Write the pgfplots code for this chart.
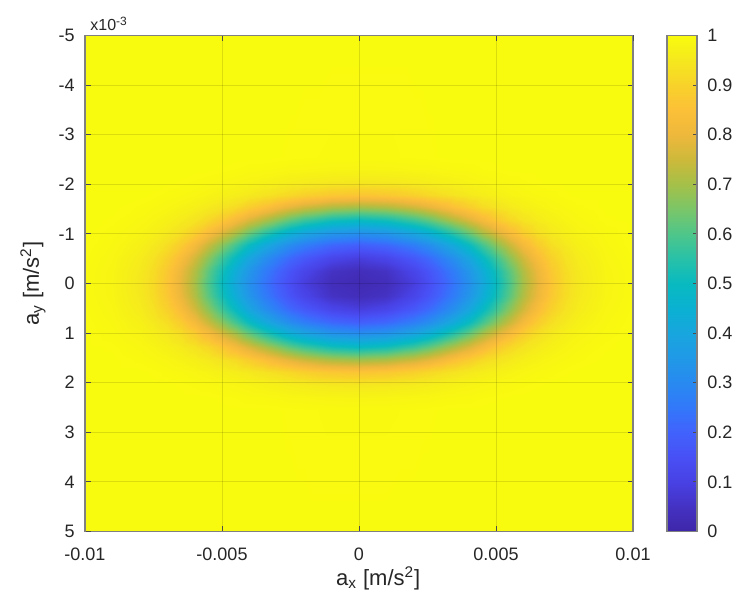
\documentclass[border=0pt]{standalone}
\usepackage{pgfplots}
\pgfplotsset{compat=1.18}
\usepackage{fontspec}
\setmainfont{Liberation Sans}

% parula-like colormap, sampled every 0.05
\pgfplotsset{
  colormap={parula}{
    rgb255=(62,38,168) rgb255=(68,50,195) rgb255=(72,65,228) rgb255=(72,80,245)
    rgb255=(65,98,252) rgb255=(50,120,250) rgb255=(40,138,240) rgb255=(32,153,231)
    rgb255=(24,166,222) rgb255=(10,177,210) rgb255=(8,186,192) rgb255=(40,193,168)
    rgb255=(78,198,138) rgb255=(122,198,104) rgb255=(165,192,72) rgb255=(205,185,58)
    rgb255=(238,184,60) rgb255=(252,192,56) rgb255=(248,210,42) rgb255=(245,232,30)
    rgb255=(249,251,14)
  },
  /pgf/number format/assume math mode=true,
}

\begin{document}
\begin{tikzpicture}
\useasboundingbox (-42.5pt,-30.75pt) rectangle (323.5pt,265.75pt);
\begin{axis}[
    view={0}{90},
    width=274pt, height=248pt, scale only axis,
    xmin=-10, xmax=10, ymin=-5, ymax=5, zmin=0, zmax=1,
    y dir=reverse,
    xtick={-10,-5,0,5,10},
    xticklabels={-0.01,-0.005,0,0.005,0.01},
    ytick={-5,-4,...,5},
    ztick=\empty,
    tick align=inside, major tick length=2.75pt,
    tick style={draw=black!70, line width=0.5pt},
    axis line style={draw=black!50, line width=0.9pt},
    grid=major,
    major grid style={draw=black, opacity=0.12, line width=0.5pt},
    axis on top,
    ticklabel style={font=\fontsize{9}{10}\selectfont, text=black!85},
    xticklabel style={anchor=north, inner sep=0pt, yshift=-8pt},
    yticklabel style={anchor=east, inner sep=0pt, xshift=-5pt},
    every axis x label/.style={at={(axis description cs:0.535,-0.108)}, anchor=base,
        font=\fontsize{11}{13}\selectfont, text=black!85},
    every axis y label/.style={at={(axis description cs:-0.084,0.5)}, anchor=base,
        rotate=90, font=\fontsize{11}{13}\selectfont, text=black!85},
    xlabel={a\textsubscript{x} [m/s\textsuperscript{2}]},
    ylabel={a\textsubscript{y} [m/s\textsuperscript{2}]},
    colormap name=parula,
    point meta min=0, point meta max=1,
    colorbar,
    colorbar style={
        at={(parent axis.north east)}, anchor=north west, xshift=8.5pt,
        width=15pt, height=248pt, scale only axis,
        ytick={0,0.1,0.2,0.3,0.4,0.5,0.6,0.7,0.8,0.9,1},
        ytick pos=right,
        tick align=inside, major tick length=2pt,
        tick style={draw=black!70, line width=0.5pt},
        axis line style={draw=black!50, line width=0.8pt},
        yticklabel style={font=\fontsize{9}{10}\selectfont, text=black!85,
            anchor=west, inner sep=0pt, xshift=5pt},
    },
]
% values in units of 1e-3 for x and y
\addplot3[surf, shader=interp, mesh/cols=33] table[row sep=\\] {
x y z\\
-10 -5 1\\ -9 -5 1\\ -8 -5 1\\ -7.5 -5 1\\ -7 -5 1\\ -6.5 -5 1\\ -6 -5 1\\ -5.5 -5 1\\ -5 -5 1\\ -4.5 -5 1\\ -4 -5 1\\ -3.5 -5 1\\ -3 -5 1\\ -2.5 -5 1\\ -2 -5 1\\ -1 -5 1\\ 0 -5 1\\ 1 -5 1\\ 2 -5 1\\ 2.5 -5 1\\ 3 -5 1\\ 3.5 -5 1\\ 4 -5 1\\ 4.5 -5 1\\ 5 -5 1\\ 5.5 -5 1\\ 6 -5 1\\ 6.5 -5 1\\ 7 -5 1\\ 7.5 -5 1\\ 8 -5 1\\ 9 -5 1\\ 10 -5 1\\
-10 -2.56 1\\ -9 -2.56 1\\ -8 -2.56 1\\ -7.5 -2.56 1\\ -7 -2.56 1\\ -6.5 -2.56 1\\ -6 -2.56 1\\ -5.5 -2.56 1\\ -5 -2.56 1\\ -4.5 -2.56 1\\ -4 -2.56 1\\ -3.5 -2.56 1\\ -3 -2.56 0.999\\ -2.5 -2.56 0.998\\ -2 -2.56 0.997\\ -1 -2.56 0.995\\ 0 -2.56 0.995\\ 1 -2.56 0.995\\ 2 -2.56 0.997\\ 2.5 -2.56 0.998\\ 3 -2.56 0.999\\ 3.5 -2.56 1\\ 4 -2.56 1\\ 4.5 -2.56 1\\ 5 -2.56 1\\ 5.5 -2.56 1\\ 6 -2.56 1\\ 6.5 -2.56 1\\ 7 -2.56 1\\ 7.5 -2.56 1\\ 8 -2.56 1\\ 9 -2.56 1\\ 10 -2.56 1\\
-10 -2.304 1\\ -9 -2.304 1\\ -8 -2.304 1\\ -7.5 -2.304 1\\ -7 -2.304 1\\ -6.5 -2.304 1\\ -6 -2.304 1\\ -5.5 -2.304 1\\ -5 -2.304 0.998\\ -4.5 -2.304 0.996\\ -4 -2.304 0.993\\ -3.5 -2.304 0.992\\ -3 -2.304 0.99\\ -2.5 -2.304 0.987\\ -2 -2.304 0.986\\ -1 -2.304 0.983\\ 0 -2.304 0.982\\ 1 -2.304 0.983\\ 2 -2.304 0.986\\ 2.5 -2.304 0.987\\ 3 -2.304 0.99\\ 3.5 -2.304 0.992\\ 4 -2.304 0.993\\ 4.5 -2.304 0.996\\ 5 -2.304 0.998\\ 5.5 -2.304 1\\ 6 -2.304 1\\ 6.5 -2.304 1\\ 7 -2.304 1\\ 7.5 -2.304 1\\ 8 -2.304 1\\ 9 -2.304 1\\ 10 -2.304 1\\
-10 -2.048 1\\ -9 -2.048 1\\ -8 -2.048 1\\ -7.5 -2.048 1\\ -7 -2.048 1\\ -6.5 -2.048 0.998\\ -6 -2.048 0.995\\ -5.5 -2.048 0.992\\ -5 -2.048 0.989\\ -4.5 -2.048 0.985\\ -4 -2.048 0.981\\ -3.5 -2.048 0.976\\ -3 -2.048 0.971\\ -2.5 -2.048 0.965\\ -2 -2.048 0.960\\ -1 -2.048 0.953\\ 0 -2.048 0.95\\ 1 -2.048 0.953\\ 2 -2.048 0.960\\ 2.5 -2.048 0.965\\ 3 -2.048 0.971\\ 3.5 -2.048 0.976\\ 4 -2.048 0.981\\ 4.5 -2.048 0.985\\ 5 -2.048 0.989\\ 5.5 -2.048 0.992\\ 6 -2.048 0.995\\ 6.5 -2.048 0.998\\ 7 -2.048 1\\ 7.5 -2.048 1\\ 8 -2.048 1\\ 9 -2.048 1\\ 10 -2.048 1\\
-10 -1.792 1\\ -9 -1.792 1\\ -8 -1.792 1\\ -7.5 -1.792 0.998\\ -7 -1.792 0.994\\ -6.5 -1.792 0.991\\ -6 -1.792 0.986\\ -5.5 -1.792 0.980\\ -5 -1.792 0.972\\ -4.5 -1.792 0.963\\ -4 -1.792 0.953\\ -3.5 -1.792 0.940\\ -3 -1.792 0.927\\ -2.5 -1.792 0.913\\ -2 -1.792 0.896\\ -1 -1.792 0.873\\ 0 -1.792 0.865\\ 1 -1.792 0.873\\ 2 -1.792 0.896\\ 2.5 -1.792 0.913\\ 3 -1.792 0.927\\ 3.5 -1.792 0.940\\ 4 -1.792 0.953\\ 4.5 -1.792 0.963\\ 5 -1.792 0.972\\ 5.5 -1.792 0.980\\ 6 -1.792 0.986\\ 6.5 -1.792 0.991\\ 7 -1.792 0.994\\ 7.5 -1.792 0.998\\ 8 -1.792 1\\ 9 -1.792 1\\ 10 -1.792 1\\
-10 -1.536 1\\ -9 -1.536 1\\ -8 -1.536 0.995\\ -7.5 -1.536 0.991\\ -7 -1.536 0.986\\ -6.5 -1.536 0.978\\ -6 -1.536 0.969\\ -5.5 -1.536 0.956\\ -5 -1.536 0.939\\ -4.5 -1.536 0.92\\ -4 -1.536 0.888\\ -3.5 -1.536 0.856\\ -3 -1.536 0.818\\ -2.5 -1.536 0.785\\ -2 -1.536 0.755\\ -1 -1.536 0.714\\ 0 -1.536 0.70\\ 1 -1.536 0.714\\ 2 -1.536 0.755\\ 2.5 -1.536 0.785\\ 3 -1.536 0.818\\ 3.5 -1.536 0.856\\ 4 -1.536 0.888\\ 4.5 -1.536 0.92\\ 5 -1.536 0.939\\ 5.5 -1.536 0.956\\ 6 -1.536 0.969\\ 6.5 -1.536 0.978\\ 7 -1.536 0.986\\ 7.5 -1.536 0.991\\ 8 -1.536 0.995\\ 9 -1.536 1\\ 10 -1.536 1\\
-10 -1.28 1\\ -9 -1.28 0.998\\ -8 -1.28 0.989\\ -7.5 -1.28 0.982\\ -7 -1.28 0.972\\ -6.5 -1.28 0.958\\ -6 -1.28 0.939\\ -5.5 -1.28 0.913\\ -5 -1.28 0.873\\ -4.5 -1.28 0.821\\ -4 -1.28 0.769\\ -3.5 -1.28 0.718\\ -3 -1.28 0.666\\ -2.5 -1.28 0.618\\ -2 -1.28 0.577\\ -1 -1.28 0.520\\ 0 -1.28 0.50\\ 1 -1.28 0.520\\ 2 -1.28 0.577\\ 2.5 -1.28 0.618\\ 3 -1.28 0.666\\ 3.5 -1.28 0.718\\ 4 -1.28 0.769\\ 4.5 -1.28 0.821\\ 5 -1.28 0.873\\ 5.5 -1.28 0.913\\ 6 -1.28 0.939\\ 6.5 -1.28 0.958\\ 7 -1.28 0.972\\ 7.5 -1.28 0.982\\ 8 -1.28 0.989\\ 9 -1.28 0.998\\ 10 -1.28 1\\
-10 -1.024 1\\ -9 -1.024 0.993\\ -8 -1.024 0.981\\ -7.5 -1.024 0.97\\ -7 -1.024 0.953\\ -6.5 -1.024 0.928\\ -6 -1.024 0.888\\ -5.5 -1.024 0.833\\ -5 -1.024 0.769\\ -4.5 -1.024 0.704\\ -4 -1.024 0.631\\ -3.5 -1.024 0.563\\ -3 -1.024 0.50\\ -2.5 -1.024 0.446\\ -2 -1.024 0.40\\ -1 -1.024 0.341\\ 0 -1.024 0.32\\ 1 -1.024 0.341\\ 2 -1.024 0.40\\ 2.5 -1.024 0.446\\ 3 -1.024 0.50\\ 3.5 -1.024 0.563\\ 4 -1.024 0.631\\ 4.5 -1.024 0.704\\ 5 -1.024 0.769\\ 5.5 -1.024 0.833\\ 6 -1.024 0.888\\ 6.5 -1.024 0.928\\ 7 -1.024 0.953\\ 7.5 -1.024 0.97\\ 8 -1.024 0.981\\ 9 -1.024 0.993\\ 10 -1.024 1\\
-10 -0.768 0.999\\ -9 -0.768 0.99\\ -8 -0.768 0.971\\ -7.5 -0.768 0.953\\ -7 -0.768 0.927\\ -6.5 -0.768 0.882\\ -6 -0.768 0.818\\ -5.5 -0.768 0.745\\ -5 -0.768 0.666\\ -4.5 -0.768 0.582\\ -4 -0.768 0.50\\ -3.5 -0.768 0.426\\ -3 -0.768 0.361\\ -2.5 -0.768 0.307\\ -2 -0.768 0.265\\ -1 -0.768 0.21\\ 0 -0.768 0.19\\ 1 -0.768 0.21\\ 2 -0.768 0.265\\ 2.5 -0.768 0.307\\ 3 -0.768 0.361\\ 3.5 -0.768 0.426\\ 4 -0.768 0.50\\ 4.5 -0.768 0.582\\ 5 -0.768 0.666\\ 5.5 -0.768 0.745\\ 6 -0.768 0.818\\ 6.5 -0.768 0.882\\ 7 -0.768 0.927\\ 7.5 -0.768 0.953\\ 8 -0.768 0.971\\ 9 -0.768 0.99\\ 10 -0.768 0.999\\
-10 -0.512 0.997\\ -9 -0.512 0.986\\ -8 -0.512 0.960\\ -7.5 -0.512 0.936\\ -7 -0.512 0.896\\ -6.5 -0.512 0.833\\ -6 -0.512 0.755\\ -5.5 -0.512 0.671\\ -5 -0.512 0.577\\ -4.5 -0.512 0.486\\ -4 -0.512 0.40\\ -3.5 -0.512 0.325\\ -3 -0.512 0.265\\ -2.5 -0.512 0.214\\ -2 -0.512 0.173\\ -1 -0.512 0.114\\ 0 -0.512 0.09\\ 1 -0.512 0.114\\ 2 -0.512 0.173\\ 2.5 -0.512 0.214\\ 3 -0.512 0.265\\ 3.5 -0.512 0.325\\ 4 -0.512 0.40\\ 4.5 -0.512 0.486\\ 5 -0.512 0.577\\ 5.5 -0.512 0.671\\ 6 -0.512 0.755\\ 6.5 -0.512 0.833\\ 7 -0.512 0.896\\ 7.5 -0.512 0.936\\ 8 -0.512 0.960\\ 9 -0.512 0.986\\ 10 -0.512 0.997\\
-10 -0.256 0.995\\ -9 -0.256 0.983\\ -8 -0.256 0.953\\ -7.5 -0.256 0.924\\ -7 -0.256 0.873\\ -6.5 -0.256 0.797\\ -6 -0.256 0.714\\ -5.5 -0.256 0.618\\ -5 -0.256 0.520\\ -4.5 -0.256 0.426\\ -4 -0.256 0.341\\ -3.5 -0.256 0.27\\ -3 -0.256 0.21\\ -2.5 -0.256 0.159\\ -2 -0.256 0.114\\ -1 -0.256 0.051\\ 0 -0.256 0.033\\ 1 -0.256 0.051\\ 2 -0.256 0.114\\ 2.5 -0.256 0.159\\ 3 -0.256 0.21\\ 3.5 -0.256 0.27\\ 4 -0.256 0.341\\ 4.5 -0.256 0.426\\ 5 -0.256 0.520\\ 5.5 -0.256 0.618\\ 6 -0.256 0.714\\ 6.5 -0.256 0.797\\ 7 -0.256 0.873\\ 7.5 -0.256 0.924\\ 8 -0.256 0.953\\ 9 -0.256 0.983\\ 10 -0.256 0.995\\
-10 0 0.995\\ -9 0 0.982\\ -8 0 0.95\\ -7.5 0 0.92\\ -7 0 0.865\\ -6.5 0 0.785\\ -6 0 0.70\\ -5.5 0 0.60\\ -5 0 0.50\\ -4.5 0 0.405\\ -4 0 0.32\\ -3.5 0 0.25\\ -3 0 0.19\\ -2.5 0 0.14\\ -2 0 0.09\\ -1 0 0.033\\ 0 0 0.02\\ 1 0 0.033\\ 2 0 0.09\\ 2.5 0 0.14\\ 3 0 0.19\\ 3.5 0 0.25\\ 4 0 0.32\\ 4.5 0 0.405\\ 5 0 0.50\\ 5.5 0 0.60\\ 6 0 0.70\\ 6.5 0 0.785\\ 7 0 0.865\\ 7.5 0 0.92\\ 8 0 0.95\\ 9 0 0.982\\ 10 0 0.995\\
-10 0.256 0.995\\ -9 0.256 0.983\\ -8 0.256 0.953\\ -7.5 0.256 0.924\\ -7 0.256 0.873\\ -6.5 0.256 0.797\\ -6 0.256 0.714\\ -5.5 0.256 0.618\\ -5 0.256 0.520\\ -4.5 0.256 0.426\\ -4 0.256 0.341\\ -3.5 0.256 0.27\\ -3 0.256 0.21\\ -2.5 0.256 0.159\\ -2 0.256 0.114\\ -1 0.256 0.051\\ 0 0.256 0.033\\ 1 0.256 0.051\\ 2 0.256 0.114\\ 2.5 0.256 0.159\\ 3 0.256 0.21\\ 3.5 0.256 0.27\\ 4 0.256 0.341\\ 4.5 0.256 0.426\\ 5 0.256 0.520\\ 5.5 0.256 0.618\\ 6 0.256 0.714\\ 6.5 0.256 0.797\\ 7 0.256 0.873\\ 7.5 0.256 0.924\\ 8 0.256 0.953\\ 9 0.256 0.983\\ 10 0.256 0.995\\
-10 0.512 0.997\\ -9 0.512 0.986\\ -8 0.512 0.960\\ -7.5 0.512 0.936\\ -7 0.512 0.896\\ -6.5 0.512 0.833\\ -6 0.512 0.755\\ -5.5 0.512 0.671\\ -5 0.512 0.577\\ -4.5 0.512 0.486\\ -4 0.512 0.40\\ -3.5 0.512 0.325\\ -3 0.512 0.265\\ -2.5 0.512 0.214\\ -2 0.512 0.173\\ -1 0.512 0.114\\ 0 0.512 0.09\\ 1 0.512 0.114\\ 2 0.512 0.173\\ 2.5 0.512 0.214\\ 3 0.512 0.265\\ 3.5 0.512 0.325\\ 4 0.512 0.40\\ 4.5 0.512 0.486\\ 5 0.512 0.577\\ 5.5 0.512 0.671\\ 6 0.512 0.755\\ 6.5 0.512 0.833\\ 7 0.512 0.896\\ 7.5 0.512 0.936\\ 8 0.512 0.960\\ 9 0.512 0.986\\ 10 0.512 0.997\\
-10 0.768 0.999\\ -9 0.768 0.99\\ -8 0.768 0.971\\ -7.5 0.768 0.953\\ -7 0.768 0.927\\ -6.5 0.768 0.882\\ -6 0.768 0.818\\ -5.5 0.768 0.745\\ -5 0.768 0.666\\ -4.5 0.768 0.582\\ -4 0.768 0.50\\ -3.5 0.768 0.426\\ -3 0.768 0.361\\ -2.5 0.768 0.307\\ -2 0.768 0.265\\ -1 0.768 0.21\\ 0 0.768 0.19\\ 1 0.768 0.21\\ 2 0.768 0.265\\ 2.5 0.768 0.307\\ 3 0.768 0.361\\ 3.5 0.768 0.426\\ 4 0.768 0.50\\ 4.5 0.768 0.582\\ 5 0.768 0.666\\ 5.5 0.768 0.745\\ 6 0.768 0.818\\ 6.5 0.768 0.882\\ 7 0.768 0.927\\ 7.5 0.768 0.953\\ 8 0.768 0.971\\ 9 0.768 0.99\\ 10 0.768 0.999\\
-10 1.024 1\\ -9 1.024 0.993\\ -8 1.024 0.981\\ -7.5 1.024 0.97\\ -7 1.024 0.953\\ -6.5 1.024 0.928\\ -6 1.024 0.888\\ -5.5 1.024 0.833\\ -5 1.024 0.769\\ -4.5 1.024 0.704\\ -4 1.024 0.631\\ -3.5 1.024 0.563\\ -3 1.024 0.50\\ -2.5 1.024 0.446\\ -2 1.024 0.40\\ -1 1.024 0.341\\ 0 1.024 0.32\\ 1 1.024 0.341\\ 2 1.024 0.40\\ 2.5 1.024 0.446\\ 3 1.024 0.50\\ 3.5 1.024 0.563\\ 4 1.024 0.631\\ 4.5 1.024 0.704\\ 5 1.024 0.769\\ 5.5 1.024 0.833\\ 6 1.024 0.888\\ 6.5 1.024 0.928\\ 7 1.024 0.953\\ 7.5 1.024 0.97\\ 8 1.024 0.981\\ 9 1.024 0.993\\ 10 1.024 1\\
-10 1.28 1\\ -9 1.28 0.998\\ -8 1.28 0.989\\ -7.5 1.28 0.982\\ -7 1.28 0.972\\ -6.5 1.28 0.958\\ -6 1.28 0.939\\ -5.5 1.28 0.913\\ -5 1.28 0.873\\ -4.5 1.28 0.821\\ -4 1.28 0.769\\ -3.5 1.28 0.718\\ -3 1.28 0.666\\ -2.5 1.28 0.618\\ -2 1.28 0.577\\ -1 1.28 0.520\\ 0 1.28 0.50\\ 1 1.28 0.520\\ 2 1.28 0.577\\ 2.5 1.28 0.618\\ 3 1.28 0.666\\ 3.5 1.28 0.718\\ 4 1.28 0.769\\ 4.5 1.28 0.821\\ 5 1.28 0.873\\ 5.5 1.28 0.913\\ 6 1.28 0.939\\ 6.5 1.28 0.958\\ 7 1.28 0.972\\ 7.5 1.28 0.982\\ 8 1.28 0.989\\ 9 1.28 0.998\\ 10 1.28 1\\
-10 1.536 1\\ -9 1.536 1\\ -8 1.536 0.995\\ -7.5 1.536 0.991\\ -7 1.536 0.986\\ -6.5 1.536 0.978\\ -6 1.536 0.969\\ -5.5 1.536 0.956\\ -5 1.536 0.939\\ -4.5 1.536 0.92\\ -4 1.536 0.888\\ -3.5 1.536 0.856\\ -3 1.536 0.818\\ -2.5 1.536 0.785\\ -2 1.536 0.755\\ -1 1.536 0.714\\ 0 1.536 0.70\\ 1 1.536 0.714\\ 2 1.536 0.755\\ 2.5 1.536 0.785\\ 3 1.536 0.818\\ 3.5 1.536 0.856\\ 4 1.536 0.888\\ 4.5 1.536 0.92\\ 5 1.536 0.939\\ 5.5 1.536 0.956\\ 6 1.536 0.969\\ 6.5 1.536 0.978\\ 7 1.536 0.986\\ 7.5 1.536 0.991\\ 8 1.536 0.995\\ 9 1.536 1\\ 10 1.536 1\\
-10 1.792 1\\ -9 1.792 1\\ -8 1.792 1\\ -7.5 1.792 0.998\\ -7 1.792 0.994\\ -6.5 1.792 0.991\\ -6 1.792 0.986\\ -5.5 1.792 0.980\\ -5 1.792 0.972\\ -4.5 1.792 0.963\\ -4 1.792 0.953\\ -3.5 1.792 0.940\\ -3 1.792 0.927\\ -2.5 1.792 0.913\\ -2 1.792 0.896\\ -1 1.792 0.873\\ 0 1.792 0.865\\ 1 1.792 0.873\\ 2 1.792 0.896\\ 2.5 1.792 0.913\\ 3 1.792 0.927\\ 3.5 1.792 0.940\\ 4 1.792 0.953\\ 4.5 1.792 0.963\\ 5 1.792 0.972\\ 5.5 1.792 0.980\\ 6 1.792 0.986\\ 6.5 1.792 0.991\\ 7 1.792 0.994\\ 7.5 1.792 0.998\\ 8 1.792 1\\ 9 1.792 1\\ 10 1.792 1\\
-10 2.048 1\\ -9 2.048 1\\ -8 2.048 1\\ -7.5 2.048 1\\ -7 2.048 1\\ -6.5 2.048 0.998\\ -6 2.048 0.995\\ -5.5 2.048 0.992\\ -5 2.048 0.989\\ -4.5 2.048 0.985\\ -4 2.048 0.981\\ -3.5 2.048 0.976\\ -3 2.048 0.971\\ -2.5 2.048 0.965\\ -2 2.048 0.960\\ -1 2.048 0.953\\ 0 2.048 0.95\\ 1 2.048 0.953\\ 2 2.048 0.960\\ 2.5 2.048 0.965\\ 3 2.048 0.971\\ 3.5 2.048 0.976\\ 4 2.048 0.981\\ 4.5 2.048 0.985\\ 5 2.048 0.989\\ 5.5 2.048 0.992\\ 6 2.048 0.995\\ 6.5 2.048 0.998\\ 7 2.048 1\\ 7.5 2.048 1\\ 8 2.048 1\\ 9 2.048 1\\ 10 2.048 1\\
-10 2.304 1\\ -9 2.304 1\\ -8 2.304 1\\ -7.5 2.304 1\\ -7 2.304 1\\ -6.5 2.304 1\\ -6 2.304 1\\ -5.5 2.304 1\\ -5 2.304 0.998\\ -4.5 2.304 0.996\\ -4 2.304 0.993\\ -3.5 2.304 0.992\\ -3 2.304 0.99\\ -2.5 2.304 0.987\\ -2 2.304 0.986\\ -1 2.304 0.983\\ 0 2.304 0.982\\ 1 2.304 0.983\\ 2 2.304 0.986\\ 2.5 2.304 0.987\\ 3 2.304 0.99\\ 3.5 2.304 0.992\\ 4 2.304 0.993\\ 4.5 2.304 0.996\\ 5 2.304 0.998\\ 5.5 2.304 1\\ 6 2.304 1\\ 6.5 2.304 1\\ 7 2.304 1\\ 7.5 2.304 1\\ 8 2.304 1\\ 9 2.304 1\\ 10 2.304 1\\
-10 2.56 1\\ -9 2.56 1\\ -8 2.56 1\\ -7.5 2.56 1\\ -7 2.56 1\\ -6.5 2.56 1\\ -6 2.56 1\\ -5.5 2.56 1\\ -5 2.56 1\\ -4.5 2.56 1\\ -4 2.56 1\\ -3.5 2.56 1\\ -3 2.56 0.999\\ -2.5 2.56 0.998\\ -2 2.56 0.997\\ -1 2.56 0.995\\ 0 2.56 0.995\\ 1 2.56 0.995\\ 2 2.56 0.997\\ 2.5 2.56 0.998\\ 3 2.56 0.999\\ 3.5 2.56 1\\ 4 2.56 1\\ 4.5 2.56 1\\ 5 2.56 1\\ 5.5 2.56 1\\ 6 2.56 1\\ 6.5 2.56 1\\ 7 2.56 1\\ 7.5 2.56 1\\ 8 2.56 1\\ 9 2.56 1\\ 10 2.56 1\\
-10 5 1\\ -9 5 1\\ -8 5 1\\ -7.5 5 1\\ -7 5 1\\ -6.5 5 1\\ -6 5 1\\ -5.5 5 1\\ -5 5 1\\ -4.5 5 1\\ -4 5 1\\ -3.5 5 1\\ -3 5 1\\ -2.5 5 1\\ -2 5 1\\ -1 5 1\\ 0 5 1\\ 1 5 1\\ 2 5 1\\ 2.5 5 1\\ 3 5 1\\ 3.5 5 1\\ 4 5 1\\ 4.5 5 1\\ 5 5 1\\ 5.5 5 1\\ 6 5 1\\ 6.5 5 1\\ 7 5 1\\ 7.5 5 1\\ 8 5 1\\ 9 5 1\\ 10 5 1\\
};
\end{axis}
% exponent label above the top-left corner of the axis
\node[anchor=base west, inner sep=0pt, font=\fontsize{8}{9}\selectfont, text=black!85]
    at (2.5pt,250.25pt) {x10\textsuperscript{-3}};
\end{tikzpicture}
\end{document}
